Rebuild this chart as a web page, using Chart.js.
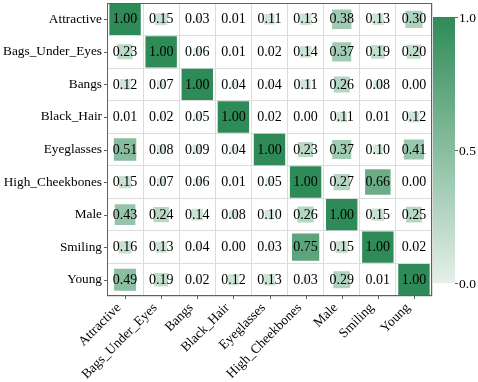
<!DOCTYPE html>
<html>
<head>
<meta charset="utf-8">
<script src="https://cdn.jsdelivr.net/npm/chart.js@4.4.1/dist/chart.umd.min.js"></script>
<style>
  html, body { margin: 0; padding: 0; background: #ffffff; }
  #wrap { width: 478px; height: 382px; position: relative; }
</style>
</head>
<body>
<div id="wrap"><canvas id="c"></canvas></div>
<script>
// ---- Data ----
const categories = ['Attractive', 'Bags_Under_Eyes', 'Bangs', 'Black_Hair', 'Eyeglasses',
                    'High_Cheekbones', 'Male', 'Smiling', 'Young'];
const attractive     = [1.00, 0.15, 0.03, 0.01, 0.11, 0.13, 0.38, 0.13, 0.30];
const bagsUnderEyes  = [0.23, 1.00, 0.06, 0.01, 0.02, 0.14, 0.37, 0.19, 0.20];
const bangs          = [0.12, 0.07, 1.00, 0.04, 0.04, 0.11, 0.26, 0.08, 0.00];
const blackHair      = [0.01, 0.02, 0.05, 1.00, 0.02, 0.00, 0.11, 0.01, 0.12];
const eyeglasses     = [0.51, 0.08, 0.09, 0.04, 1.00, 0.23, 0.37, 0.10, 0.41];
const highCheekbones = [0.15, 0.07, 0.06, 0.01, 0.05, 1.00, 0.27, 0.66, 0.00];
const male           = [0.43, 0.24, 0.14, 0.08, 0.10, 0.26, 1.00, 0.15, 0.25];
const smiling        = [0.16, 0.13, 0.04, 0.00, 0.03, 0.75, 0.15, 1.00, 0.02];
const young          = [0.49, 0.19, 0.02, 0.12, 0.13, 0.03, 0.29, 0.01, 1.00];
const colorbarTicks  = [0.0, 0.5, 1.0];

const rows = [attractive, bagsUnderEyes, bangs, blackHair, eyeglasses,
              highCheekbones, male, smiling, young];

// ---- Styling helpers ----
const LOW = [228, 240, 232];
const HIGH = [46, 139, 87];
function colorFor(v) {
  const t = Math.max(0, Math.min(1, Math.abs(v)));
  const c = LOW.map((l, k) => Math.round(l + (HIGH[k] - l) * t));
  return `rgb(${c[0]},${c[1]},${c[2]})`;
}
const SERIF = '"Liberation Serif", "Times New Roman", serif';

const points = [];
rows.forEach((row, i) => {
  row.forEach((v, j) => {
    points.push({ x: categories[j], y: categories[i], v: v });
  });
});

function sideFor(ctx) {
  const chart = ctx.chart;
  const area = chart.chartArea;
  if (!area) return 0;
  const cw = (area.right - area.left) / categories.length;
  const ch = (area.bottom - area.top) / categories.length;
  const full = Math.min(cw, ch) * 0.965;
  const raw = ctx.raw;
  if (!raw) return 0;
  return Math.sqrt(Math.abs(raw.v)) * full;
}

function zeroPad(scale) {
  scale.paddingTop = 0; scale.paddingBottom = 0;
  scale.paddingLeft = 0; scale.paddingRight = 0;
}

const valueTextPlugin = {
  id: 'valueText',
  afterDatasetsDraw(chart) {
    const ctx = chart.ctx;
    const meta = chart.getDatasetMeta(0);
    ctx.save();
    ctx.font = '14px ' + SERIF;
    ctx.fillStyle = '#000000';
    ctx.textAlign = 'center';
    ctx.textBaseline = 'middle';
    meta.data.forEach((el, k) => {
      const raw = chart.data.datasets[0].data[k];
      ctx.fillText(raw.v.toFixed(2), el.x, el.y + 0.5);
    });
    ctx.restore();
  }
};

const framePlugin = {
  id: 'frame',
  afterDraw(chart) {
    const ctx = chart.ctx;
    const a = chart.chartArea;
    const xs = chart.scales.x, ys = chart.scales.y;
    ctx.save();
    ctx.strokeStyle = '#606060';
    ctx.lineWidth = 1;
    ctx.strokeRect(Math.round(a.left) + 0.5, Math.round(a.top) + 0.5,
                   Math.round(a.right - a.left) - 1, Math.round(a.bottom - a.top) - 1);
    ctx.beginPath();
    for (let i = 0; i < xs.ticks.length; i++) {
      const px = Math.round(xs.getPixelForTick(i)) + 0.5;
      ctx.moveTo(px, a.bottom);
      ctx.lineTo(px, a.bottom + 3);
    }
    for (let i = 0; i < ys.ticks.length; i++) {
      const py = Math.round(ys.getPixelForTick(i)) + 0.5;
      ctx.moveTo(a.left - 3, py);
      ctx.lineTo(a.left, py);
    }
    ctx.stroke();

    // colorbar
    const cbLeft = a.right + 1, cbRight = a.right + 23;
    const cbTop = a.top + 14, cbBottom = a.bottom - 13;
    const grad = ctx.createLinearGradient(0, cbBottom, 0, cbTop);
    grad.addColorStop(0, colorFor(0));
    grad.addColorStop(1, colorFor(1));
    ctx.fillStyle = grad;
    ctx.fillRect(cbLeft, cbTop, cbRight - cbLeft, cbBottom - cbTop);
    ctx.font = '13.5px ' + SERIF;
    ctx.fillStyle = '#000000';
    ctx.textAlign = 'left';
    ctx.textBaseline = 'middle';
    ctx.strokeStyle = '#606060';
    ctx.beginPath();
    colorbarTicks.forEach(t => {
      const py = cbBottom - (cbBottom - cbTop) * t;
      ctx.moveTo(cbRight, Math.round(py) + 0.5);
      ctx.lineTo(cbRight + 3, Math.round(py) + 0.5);
      ctx.fillText(t.toFixed(1), cbRight + 4, py + 1);
    });
    ctx.stroke();
    ctx.restore();
  }
};

new Chart(document.getElementById('c'), {
  type: 'scatter',
  data: {
    datasets: [{
      data: points,
      pointStyle: 'rect',
      pointBorderWidth: 0,
      pointHoverBorderWidth: 0,
      pointRadius: (ctx) => sideFor(ctx) / Math.SQRT2,
      pointHoverRadius: (ctx) => sideFor(ctx) / Math.SQRT2,
      backgroundColor: (ctx) => ctx.raw ? colorFor(ctx.raw.v) : '#fff',
      pointBackgroundColor: (ctx) => ctx.raw ? colorFor(ctx.raw.v) : '#fff',
      borderColor: 'rgba(0,0,0,0)'
    }]
  },
  options: {
    responsive: true,
    maintainAspectRatio: false,
    animation: false,
    events: [],
    layout: { padding: { top: 3, right: 46, left: 0, bottom: 0 } },
    plugins: { legend: { display: false }, tooltip: { enabled: false } },
    scales: {
      x: {
        type: 'category',
        labels: categories,
        offset: true,
        position: 'bottom',
        grid: { offset: true, color: '#dcdcdc', drawTicks: false, lineWidth: 1 },
        border: { display: false },
        ticks: {
          autoSkip: false, minRotation: 45, maxRotation: 45, padding: 4, labelOffset: -6,
          color: '#000000', font: { family: SERIF, size: 13.5 }
        },
        afterFit(scale) { scale.height = 86; zeroPad(scale); }
      },
      y: {
        type: 'category',
        labels: categories,
        offset: true,
        position: 'left',
        grid: { offset: true, color: '#dcdcdc', drawTicks: false, lineWidth: 1 },
        border: { display: false },
        ticks: {
          autoSkip: false, padding: 5,
          color: '#000000', font: { family: SERIF, size: 13.3 }
        },
        afterFit(scale) { scale.width = 107; zeroPad(scale); }
      }
    }
  },
  plugins: [valueTextPlugin, framePlugin]
});
</script>
</body>
</html>
